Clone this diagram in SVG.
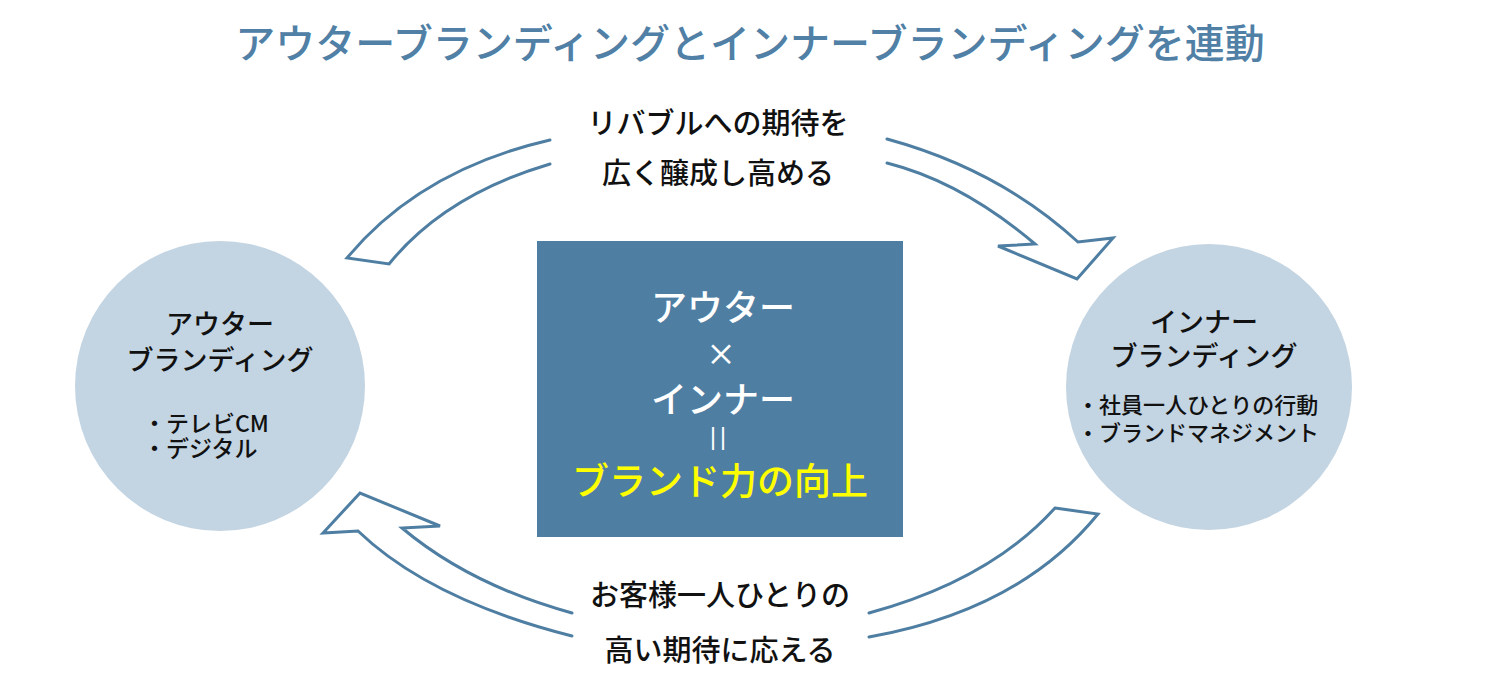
<svg xmlns="http://www.w3.org/2000/svg" width="1500" height="683" viewBox="0 0 1500 683">
<style>
text{font-family:"Noto Sans CJK JP","Noto Sans",sans-serif;font-weight:500;}
.title{font-size:40px;fill:#5080a6;}
.lbl{font-size:29px;fill:#111111;text-anchor:middle;}
.ctitle{font-size:27px;fill:#111111;text-anchor:middle;}
.blt{fill:#111111;}
.arr{fill:none;stroke:#4f7ea3;stroke-width:3;stroke-linejoin:miter;stroke-linecap:round;}
.circ{fill:#c3d4e2;}
.ctr{font-size:36px;fill:#ffffff;text-anchor:middle;}
</style>
<rect width="1500" height="683" fill="#ffffff"/>
<text class="title" x="750" y="58" text-anchor="middle">アウターブランディングとインナーブランディングを連動</text>

<g id="connectors">
  <g id="arrow-top">
    <path class="arr" d="M550,140 Q420,170 347,258 L389,264 Q445,195 550,164"/>
    <path class="arr" d="M887,139 Q1000,170 1078,242 L1113,238 L1077,279 L998,246 L1035,244 Q962,182 887,163"/>
  </g>
  <g id="arrow-bottom">
    <path class="arr" d="M1055,508 L1098,514 Q1020,610 869,637 M869,613 Q990,580 1055,508"/>
    <path class="arr" d="M572,636 Q430,600 358,531 L323,533 L360,493 L440,526 L402,528 Q470,585 572,613"/>
  </g>
</g>

<g id="label-top">
  <text class="lbl" x="718" y="134">リバブルへの期待を</text>
  <text class="lbl" x="718" y="184">広く醸成し高める</text>
</g>
<g id="label-bottom">
  <text class="lbl" x="720" y="606">お客様一人ひとりの</text>
  <text class="lbl" x="720" y="661">高い期待に応える</text>
</g>

<g id="node-outer">
  <circle class="circ" cx="220" cy="386" r="145"/>
  <text class="ctitle" x="220" y="334">アウター</text>
  <text class="ctitle" x="220" y="370">ブランディング</text>
  <text class="blt" x="143" y="432" font-size="23">・テレビCM</text>
  <text class="blt" x="143" y="457" font-size="23">・デジタル</text>
</g>

<g id="node-inner">
  <circle class="circ" cx="1209" cy="387" r="143"/>
  <text class="ctitle" x="1204" y="332">インナー</text>
  <text class="ctitle" x="1204" y="366">ブランディング</text>
  <text class="blt" x="1077" y="413" font-size="22">・社員一人ひとりの行動</text>
  <text class="blt" x="1077" y="441" font-size="22">・ブランドマネジメント</text>
</g>

<g id="node-center">
  <rect x="537" y="241" width="366" height="296" fill="#4f7ea3"/>
  <text class="ctr" x="723" y="321">アウター</text>
  <text x="721" y="365" font-size="30" fill="#ffffff" text-anchor="middle">×</text>
  <text class="ctr" x="723" y="413">インナー</text>
  <text x="720" y="445" font-size="23" fill="#ffffff" text-anchor="middle" style="font-family:'Liberation Sans',sans-serif;font-weight:400" letter-spacing="4">||</text>
  <text x="720" y="495" font-size="37" fill="#ffff00" text-anchor="middle">ブランド力の向上</text>
</g>
</svg>
